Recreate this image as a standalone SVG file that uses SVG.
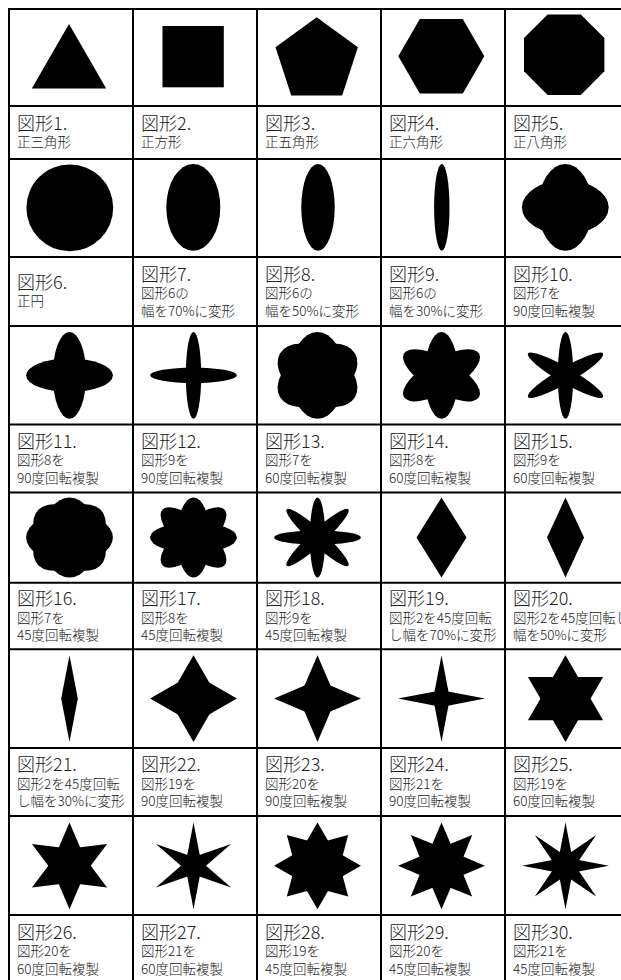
<svg xmlns="http://www.w3.org/2000/svg" xmlns:xlink="http://www.w3.org/1999/xlink" width="621" height="980" viewBox="0 0 621 980">
<style>
.t{font-family:"Noto Sans CJK JP","Noto Sans",sans-serif;font-size:18px;font-weight:300;fill:#222}
.s{font-family:"Noto Sans CJK JP","Noto Sans",sans-serif;font-size:13.5px;font-weight:300;fill:#222}
.grid line{stroke:#000;stroke-width:2}
</style>
<defs>
<circle id="e6" r="43.4"/>
<ellipse id="e7" rx="27" ry="43.4"/>
<ellipse id="e8" rx="16.7" ry="43.4"/>
<ellipse id="e9" rx="7.7" ry="43.4"/>
<polygon id="d19" points="0,-43.4 25,0 0,43.4 -25,0"/>
<polygon id="d20" points="0,-43.4 18.5,0 0,43.4 -18.5,0"/>
<polygon id="d21" points="0,-43.4 8.3,0 0,43.4 -8.3,0"/>
</defs>
<rect width="621" height="980" fill="#fff"/>
<g class="grid" id="connectors">
<line x1="9" y1="9" x2="621" y2="9"/>
<line x1="9" y1="106" x2="621" y2="106"/>
<line x1="9" y1="159" x2="621" y2="159"/>
<line x1="9" y1="257" x2="621" y2="257"/>
<line x1="9" y1="326" x2="621" y2="326"/>
<line x1="9" y1="424.5" x2="621" y2="424.5"/>
<line x1="9" y1="492.5" x2="621" y2="492.5"/>
<line x1="9" y1="582.7" x2="621" y2="582.7"/>
<line x1="9" y1="649.3" x2="621" y2="649.3"/>
<line x1="9" y1="748" x2="621" y2="748"/>
<line x1="9" y1="816" x2="621" y2="816"/>
<line x1="9" y1="915" x2="621" y2="915"/>
<line x1="9" y1="8" x2="9" y2="980"/>
<line x1="133" y1="8" x2="133" y2="980"/>
<line x1="257" y1="8" x2="257" y2="980"/>
<line x1="381" y1="8" x2="381" y2="980"/>
<line x1="505" y1="8" x2="505" y2="980"/>
</g>
<!-- Row 1 -->
<g id="fig1"><polygon points="69,24 31.8,88.4 106.2,88.4"/><text class="t" x="17" y="130">図形1.</text><text class="s" x="17" y="147">正三角形</text></g>
<g id="fig2"><rect x="162.5" y="26" width="61.3" height="61.3"/><text class="t" x="141" y="130">図形2.</text><text class="s" x="141" y="147">正方形</text></g>
<g id="fig3"><polygon points="316.7,17.3 357.9,47.2 342.15,95.6 291.25,95.6 275.5,47.2"/><text class="t" x="265" y="130">図形3.</text><text class="s" x="265" y="147">正五角形</text></g>
<g id="fig4"><polygon points="484.3,56.2 462.8,93.4 419.8,93.4 398.3,56.2 419.8,19 462.8,19"/><text class="t" x="389" y="130">図形4.</text><text class="s" x="389" y="147">正六角形</text></g>
<g id="fig5"><polygon points="604.4,38.1 604.4,71.3 580.8,94.9 547.6,94.9 524,71.3 524,38.1 547.6,14.5 580.8,14.5"/><text class="t" x="513" y="130">図形5.</text><text class="s" x="513" y="147">正八角形</text></g>
<!-- Row 2 -->
<g id="fig6"><use href="#e6" x="69.8" y="207.8"/><text class="t" x="17" y="289">図形6.</text><text class="s" x="17" y="306">正円</text></g>
<g id="fig7"><use href="#e7" x="193.3" y="207.3"/><text class="t" x="141" y="280.5">図形7.</text><text class="s" x="141" y="298">図形6の</text><text class="s" x="141" y="315.5">幅を70%に変形</text></g>
<g id="fig8"><use href="#e8" x="318" y="207.3"/><text class="t" x="265" y="280.5">図形8.</text><text class="s" x="265" y="298">図形6の</text><text class="s" x="265" y="315.5">幅を50%に変形</text></g>
<g id="fig9"><use href="#e9" x="441.8" y="207.3"/><text class="t" x="389" y="280.5">図形9.</text><text class="s" x="389" y="298">図形6の</text><text class="s" x="389" y="315.5">幅を30%に変形</text></g>
<g id="fig10"><g transform="translate(565.3,207.3)"><use href="#e7"/><use href="#e7" transform="rotate(90)"/></g><text class="t" x="513" y="280.5">図形10.</text><text class="s" x="513" y="298">図形7を</text><text class="s" x="513" y="315.5">90度回転複製</text></g>
<!-- Row 3 -->
<g id="fig11"><g transform="translate(69.5,375.3)"><use href="#e8"/><use href="#e8" transform="rotate(90)"/></g><text class="t" x="17" y="447.5">図形11.</text><text class="s" x="17" y="465">図形8を</text><text class="s" x="17" y="482.5">90度回転複製</text></g>
<g id="fig12"><g transform="translate(193.5,375.3)"><use href="#e9"/><use href="#e9" transform="rotate(90)"/></g><text class="t" x="141" y="447.5">図形12.</text><text class="s" x="141" y="465">図形9を</text><text class="s" x="141" y="482.5">90度回転複製</text></g>
<g id="fig13"><g transform="translate(317.5,375.3)"><use href="#e7"/><use href="#e7" transform="rotate(60)"/><use href="#e7" transform="rotate(120)"/></g><text class="t" x="265" y="447.5">図形13.</text><text class="s" x="265" y="465">図形7を</text><text class="s" x="265" y="482.5">60度回転複製</text></g>
<g id="fig14"><g transform="translate(441.5,375.3)"><use href="#e8"/><use href="#e8" transform="rotate(60)"/><use href="#e8" transform="rotate(120)"/></g><text class="t" x="389" y="447.5">図形14.</text><text class="s" x="389" y="465">図形8を</text><text class="s" x="389" y="482.5">60度回転複製</text></g>
<g id="fig15"><g transform="translate(565.5,375.3)"><use href="#e9"/><use href="#e9" transform="rotate(60)"/><use href="#e9" transform="rotate(120)"/></g><text class="t" x="513" y="447.5">図形15.</text><text class="s" x="513" y="465">図形9を</text><text class="s" x="513" y="482.5">60度回転複製</text></g>
<!-- Row 4 -->
<g id="fig16"><g transform="translate(69.5,537.5) scale(1,0.92)"><use href="#e7"/><use href="#e7" transform="rotate(45)"/><use href="#e7" transform="rotate(90)"/><use href="#e7" transform="rotate(135)"/></g><text class="t" x="17" y="605">図形16.</text><text class="s" x="17" y="622.5">図形7を</text><text class="s" x="17" y="640">45度回転複製</text></g>
<g id="fig17"><g transform="translate(193.5,537.5) scale(1,0.92)"><use href="#e8"/><use href="#e8" transform="rotate(45)"/><use href="#e8" transform="rotate(90)"/><use href="#e8" transform="rotate(135)"/></g><text class="t" x="141" y="605">図形17.</text><text class="s" x="141" y="622.5">図形8を</text><text class="s" x="141" y="640">45度回転複製</text></g>
<g id="fig18"><g transform="translate(317.5,537.5) scale(1,0.92)"><use href="#e9"/><use href="#e9" transform="rotate(45)"/><use href="#e9" transform="rotate(90)"/><use href="#e9" transform="rotate(135)"/></g><text class="t" x="265" y="605">図形18.</text><text class="s" x="265" y="622.5">図形9を</text><text class="s" x="265" y="640">45度回転複製</text></g>
<g id="fig19"><g transform="translate(441.5,537.5) scale(1,0.92)"><use href="#d19"/></g><text class="t" x="389" y="605">図形19.</text><text class="s" x="389" y="622.5">図形2を45度回転</text><text class="s" x="389" y="640">し幅を70%に変形</text></g>
<g id="fig20"><g transform="translate(565.5,537.5) scale(1,0.92)"><use href="#d20"/></g><text class="t" x="513" y="605">図形20.</text><text class="s" x="513" y="622.5">図形2を45度回転し</text><text class="s" x="513" y="640">幅を50%に変形</text></g>
<!-- Row 5 -->
<g id="fig21"><g transform="translate(69.5,698.6)"><use href="#d21"/></g><text class="t" x="17" y="771">図形21.</text><text class="s" x="17" y="788.5">図形2を45度回転</text><text class="s" x="17" y="806">し幅を30%に変形</text></g>
<g id="fig22"><g transform="translate(193.5,698.6)"><use href="#d19"/><use href="#d19" transform="rotate(90)"/></g><text class="t" x="141" y="771">図形22.</text><text class="s" x="141" y="788.5">図形19を</text><text class="s" x="141" y="806">90度回転複製</text></g>
<g id="fig23"><g transform="translate(317.5,698.6)"><use href="#d20"/><use href="#d20" transform="rotate(90)"/></g><text class="t" x="265" y="771">図形23.</text><text class="s" x="265" y="788.5">図形20を</text><text class="s" x="265" y="806">90度回転複製</text></g>
<g id="fig24"><g transform="translate(441.5,698.6)"><use href="#d21"/><use href="#d21" transform="rotate(90)"/></g><text class="t" x="389" y="771">図形24.</text><text class="s" x="389" y="788.5">図形21を</text><text class="s" x="389" y="806">90度回転複製</text></g>
<g id="fig25"><g transform="translate(565.5,698.6)"><use href="#d19"/><use href="#d19" transform="rotate(60)"/><use href="#d19" transform="rotate(120)"/></g><text class="t" x="513" y="771">図形25.</text><text class="s" x="513" y="788.5">図形19を</text><text class="s" x="513" y="806">60度回転複製</text></g>
<!-- Row 6 -->
<g id="fig26"><g transform="translate(69.5,865.8)"><use href="#d20"/><use href="#d20" transform="rotate(60)"/><use href="#d20" transform="rotate(120)"/></g><text class="t" x="17" y="938.5">図形26.</text><text class="s" x="17" y="956">図形20を</text><text class="s" x="17" y="973.5">60度回転複製</text></g>
<g id="fig27"><g transform="translate(193.5,865.8)"><use href="#d21"/><use href="#d21" transform="rotate(60)"/><use href="#d21" transform="rotate(120)"/></g><text class="t" x="141" y="938.5">図形27.</text><text class="s" x="141" y="956">図形21を</text><text class="s" x="141" y="973.5">60度回転複製</text></g>
<g id="fig28"><g transform="translate(317.5,865.8)"><use href="#d19"/><use href="#d19" transform="rotate(45)"/><use href="#d19" transform="rotate(90)"/><use href="#d19" transform="rotate(135)"/></g><text class="t" x="265" y="938.5">図形28.</text><text class="s" x="265" y="956">図形19を</text><text class="s" x="265" y="973.5">45度回転複製</text></g>
<g id="fig29"><g transform="translate(441.5,865.8)"><use href="#d20"/><use href="#d20" transform="rotate(45)"/><use href="#d20" transform="rotate(90)"/><use href="#d20" transform="rotate(135)"/></g><text class="t" x="389" y="938.5">図形29.</text><text class="s" x="389" y="956">図形20を</text><text class="s" x="389" y="973.5">45度回転複製</text></g>
<g id="fig30"><g transform="translate(565.5,865.8)"><use href="#d21"/><use href="#d21" transform="rotate(45)"/><use href="#d21" transform="rotate(90)"/><use href="#d21" transform="rotate(135)"/></g><text class="t" x="513" y="938.5">図形30.</text><text class="s" x="513" y="956">図形21を</text><text class="s" x="513" y="973.5">45度回転複製</text></g>
</svg>
